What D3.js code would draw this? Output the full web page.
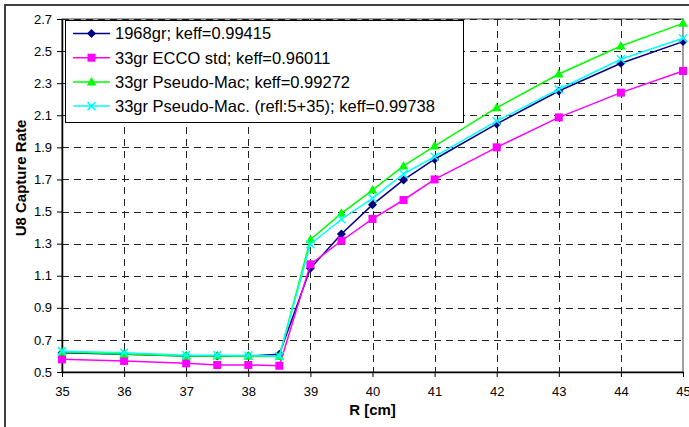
<!DOCTYPE html>
<html>
<head>
<meta charset="utf-8">
<script src="https://cdn.jsdelivr.net/npm/d3@7"></script>
<style>
  body { margin: 0; background: #fff; }
  svg { display: block; font-family: "Liberation Sans", Arial, sans-serif; }
</style>
</head>
<body>
<svg id="viz" width="689" height="427"></svg>
<script>
// chart data
const rValues = [35, 36, 37, 37.5, 38, 38.5, 39, 39.5, 40, 40.5, 41, 42, 43, 44, 45];
const seriesNames = [
    "1968gr; keff=0.99415",
    "33gr ECCO std; keff=0.96011",
    "33gr Pseudo-Mac; keff=0.99272",
    "33gr Pseudo-Mac. (refl:5+35); keff=0.99738"
];
const gr1968 = [0.62, 0.61, 0.60, 0.60, 0.60, 0.61, 1.146, 1.36, 1.543, 1.697, 1.826, 2.046, 2.251, 2.424, 2.559];
const eccoStd = [0.579, 0.569, 0.554, 0.544, 0.544, 0.539, 1.171, 1.318, 1.454, 1.572, 1.70, 1.90, 2.087, 2.241, 2.376];
const pseudoMac = [0.625, 0.612, 0.60, 0.60, 0.598, 0.596, 1.325, 1.489, 1.634, 1.784, 1.908, 2.147, 2.357, 2.532, 2.673];
const pseudoMacRefl = [0.63, 0.62, 0.605, 0.605, 0.603, 0.598, 1.296, 1.452, 1.582, 1.734, 1.842, 2.064, 2.262, 2.449, 2.58];
const xTicks = [35, 36, 37, 38, 39, 40, 41, 42, 43, 44, 45];
const yTicks = [0.5, 0.7, 0.9, 1.1, 1.3, 1.5, 1.7, 1.9, 2.1, 2.3, 2.5, 2.7];

const colors = ["#000080", "#ff00ff", "#00ff00", "#00ffff"];
const shapes = ["diamond", "square", "triangle", "cross"];
const allSeries = [gr1968, eccoStd, pseudoMac, pseudoMacRefl];

const svg = d3.select("#viz");
const margin = {top: 19, right: 6, bottom: 55, left: 62};
const width = 689 - margin.left - margin.right;
const height = 427 - margin.top - margin.bottom;

// outer frame (only top and left show in the crop)
svg.append("path")
    .attr("d", "M5,427V5H689")
    .attr("fill", "none")
    .attr("stroke", "#404040")
    .attr("stroke-width", 2);

const g = svg.append("g").attr("transform", `translate(${margin.left},${margin.top})`);

const x = d3.scaleLinear().domain([35, 45]).range([0, width]);
const y = d3.scaleLinear().domain([0.5, 2.7]).range([height, 0]);

// plot area border
g.append("rect")
    .attr("x", 0).attr("y", 0)
    .attr("width", width).attr("height", height)
    .attr("fill", "#fff")
    .attr("stroke", "#808080")
    .attr("stroke-width", 1.5);

// dashed grid
g.append("g").selectAll("line")
    .data(yTicks.slice(1))
    .join("line")
    .attr("x1", 0).attr("x2", width)
    .attr("y1", d => Math.round(y(d)) + 0.5).attr("y2", d => Math.round(y(d)) + 0.5)
    .attr("stroke", "#222").attr("stroke-dasharray", "7,5");
g.append("g").selectAll("line")
    .data(xTicks.slice(1, -1))
    .join("line")
    .attr("y1", 0).attr("y2", height)
    .attr("x1", d => Math.round(x(d)) + 0.5).attr("x2", d => Math.round(x(d)) + 0.5)
    .attr("stroke", "#222").attr("stroke-dasharray", "7,5");

// axes
const xAxis = g.append("g")
    .attr("transform", `translate(0,${height})`)
    .call(d3.axisBottom(x).tickValues(xTicks).tickFormat(d3.format("d")).tickSizeOuter(0).tickSizeInner(5).tickPadding(10));
const yAxis = g.append("g")
    .call(d3.axisLeft(y).tickValues(yTicks).tickFormat(d3.format(".1f")).tickSizeOuter(0).tickSizeInner(5).tickPadding(5));
[xAxis, yAxis].forEach(a => {
    a.selectAll("text").style("font-size", "13px").style("font-family", "Liberation Sans, Arial, sans-serif").attr("fill", "#000");
    a.selectAll("line").attr("stroke", "#000");
    a.select(".domain").attr("stroke", "#000").attr("stroke-width", 1.5);
});

// titles
svg.append("text")
    .attr("x", margin.left + width / 2).attr("y", 415)
    .attr("text-anchor", "middle")
    .style("font-size", "15px").style("font-weight", "bold")
    .text("R [cm]");
svg.append("text")
    .attr("transform", "translate(26,178) rotate(-90)")
    .attr("text-anchor", "middle")
    .style("font-size", "15px").style("font-weight", "bold")
    .text("U8 Capture Rate");

function marker(sel, shape, color) {
    if (shape === "diamond") {
        sel.append("path").attr("d", "M0,-4.5L4.5,0L0,4.5L-4.5,0Z").attr("fill", color);
    } else if (shape === "square") {
        sel.append("rect").attr("x", -4).attr("y", -4).attr("width", 8).attr("height", 8).attr("fill", color);
    } else if (shape === "triangle") {
        sel.append("path").attr("d", "M0,-5L4.8,3.5L-4.8,3.5Z").attr("fill", color);
    } else {
        sel.append("path").attr("d", "M-4,-4L4,4M-4,4L4,-4").attr("stroke", color).attr("stroke-width", 1.5).attr("fill", "none");
    }
}

const line = d3.line().x(d => x(d[0])).y(d => y(d[1]));

allSeries.forEach((vals, i) => {
    const pts = rValues.map((r, j) => [r, vals[j]]);
    g.append("path")
        .datum(pts)
        .attr("d", line)
        .attr("fill", "none")
        .attr("stroke", colors[i])
        .attr("stroke-width", 1.5);
    g.append("g").selectAll("g")
        .data(pts)
        .join("g")
        .attr("transform", d => `translate(${x(d[0])},${y(d[1])})`)
        .each(function() { marker(d3.select(this), shapes[i], colors[i]); });
});

// legend
const legend = svg.append("g").attr("transform", "translate(65,20)");
legend.append("rect")
    .attr("x", 0.5).attr("y", 0.5)
    .attr("width", 398).attr("height", 102)
    .attr("fill", "#fff").attr("stroke", "#000");
seriesNames.forEach((name, i) => {
    const row = legend.append("g").attr("transform", `translate(0,${13.5 + i * 24.2})`);
    row.append("line").attr("x1", 8).attr("x2", 45).attr("stroke", colors[i]).attr("stroke-width", 1.5);
    marker(row.append("g").attr("transform", "translate(26.5,0)"), shapes[i], colors[i]);
    row.append("text")
        .attr("x", 50).attr("y", 0).attr("dy", "0.36em")
        .style("font-size", "16.5px")
        .text(name);
});
</script>
</body>
</html>
